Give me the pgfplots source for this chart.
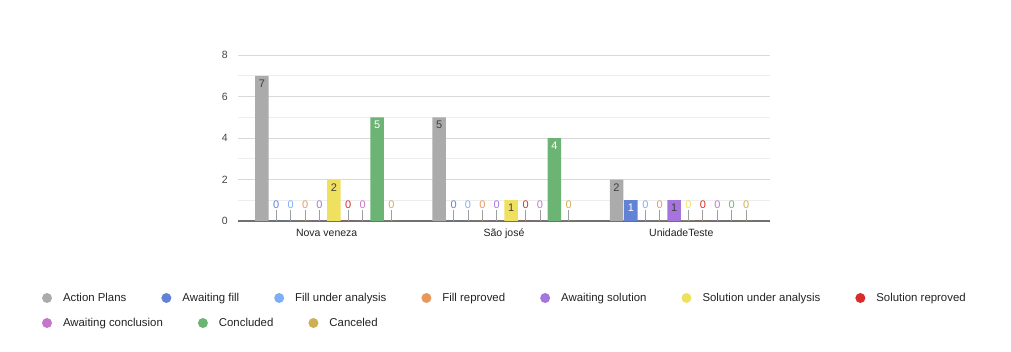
\documentclass[border=0pt]{standalone}
\usepackage{pgfplots}
\pgfplotsset{compat=1.18}
\usepackage{fontspec}
\setmainfont{Liberation Sans}
\definecolor{cAP}{HTML}{ABABAB}
\definecolor{cAF}{HTML}{6282D6}
\definecolor{cFU}{HTML}{7DAEF6}
\definecolor{cFR}{HTML}{E9985C}
\definecolor{cAS}{HTML}{A574DC}
\definecolor{cSU}{HTML}{F0E060}
\definecolor{cSR}{HTML}{D82B2B}
\definecolor{cAC}{HTML}{C476CA}
\definecolor{cCO}{HTML}{6CB474}
\definecolor{cCA}{HTML}{CDB056}
\definecolor{stemc}{HTML}{9E9E9E}
\definecolor{labdark}{HTML}{404040}
\definecolor{gridmaj}{HTML}{D9D9D9}
\definecolor{gridmin}{HTML}{EDEDED}
\definecolor{basec}{HTML}{707070}
\definecolor{tickc}{HTML}{444444}
\definecolor{legc}{HTML}{222222}
\newcommand\zerolab[1]{\vbox{\offinterlineskip\hbox to 10bp{\hss\textcolor{#1}{0}\hss}\kern1.5bp\hbox to 10bp{\hss\textcolor{stemc}{\vrule width 1bp height 11bp depth 0pt}\hss}}}
\newcommand\vallab[1]{\raisebox{-12.3bp}[0pt][0pt]{\textcolor{#1}{\pgfmathprintnumber{\pgfplotspointmeta}}}}
\newcommand\lab[2]{\pgfmathfloatifflags{\pgfplotspointmeta}{0}{\zerolab{#1}}{\vallab{#2}}}
\pgfplotsset{
  circleleg/.style={legend image code/.code={\fill[##1,draw=none] (5bp,0bp) circle[radius=5bp];}},
  mylegend/.style={legend style={draw=none, fill=none, inner sep=0pt, outer sep=0pt,
      font=\fontsize{11.4bp}{13bp}\selectfont, text=legc,
      nodes={inner sep=0pt},
      /tikz/every odd column/.style={column sep=11bp},
      /tikz/every even column/.style={column sep=35bp}},
    legend cell align=left},
}
\begin{document}
\begin{tikzpicture}
\useasboundingbox (0,0) rectangle (1011bp,352bp);
\begin{axis}[
  at={(238bp,131bp)}, anchor=south west,
  scale only axis, width=532bp, height=166bp,
  ybar, bar width=13.5bp,
  xmin=-0.5, xmax=2.5, ymin=0, ymax=8,
  xtick={0,1,2}, xticklabels={Nova veneza, São josé, UnidadeTeste},
  ytick={0,2,4,6,8}, minor ytick={1,3,5,7},
  ymajorgrids, yminorgrids,
  major grid style={draw=gridmaj, line width=0.9bp},
  minor grid style={draw=gridmin, line width=0.9bp},
  axis x line*=bottom, axis y line*=left,
  x axis line style={draw=basec, line width=1.2bp},
  y axis line style={draw=none},
  major tick length=0pt, minor tick length=0pt,
  /pgf/number format/assume math mode=true,
  yticklabel style={font=\fontsize{10.5bp}{12bp}\selectfont, text=tickc, inner sep=0pt, xshift=-10bp},
  xticklabel style={font=\fontsize{10.5bp}{12bp}\selectfont, text=legc, inner sep=0pt, anchor=north, text height=8bp, text depth=2bp, yshift=-7.7bp},
  clip=false,
  every node near coord/.append style={anchor=south, inner sep=0pt, font=\fontsize{11bp}{13bp}\selectfont},
  mylegend, legend columns=7,
  legend style={at={(axis description cs:-0.3684,-0.4639)}, anchor=west},
]
\addplot[fill=cAP, draw=none, bar shift=-64.8bp, circleleg, nodes near coords={\lab{cAP}{labdark}}] coordinates {(0,7) (1,5) (2,2)};
\addlegendentry{Action Plans}
\addplot[fill=cAF, draw=none, bar shift=-50.4bp, circleleg, nodes near coords={\lab{cAF}{white}}] coordinates {(0,0) (1,0) (2,1)};
\addlegendentry{Awaiting fill}
\addplot[fill=cFU, draw=none, bar shift=-36bp, circleleg, nodes near coords={\lab{cFU}{labdark}}] coordinates {(0,0) (1,0) (2,0)};
\addlegendentry{Fill under analysis}
\addplot[fill=cFR, draw=none, bar shift=-21.6bp, circleleg, nodes near coords={\lab{cFR}{labdark}}] coordinates {(0,0) (1,0) (2,0)};
\addlegendentry{Fill reproved}
\addplot[fill=cAS, draw=none, bar shift=-7.2bp, circleleg, nodes near coords={\lab{cAS}{labdark}}] coordinates {(0,0) (1,0) (2,1)};
\addlegendentry{Awaiting solution}
\addplot[fill=cSU, draw=none, bar shift=7.2bp, circleleg, nodes near coords={\lab{cSU}{labdark}}] coordinates {(0,2) (1,1) (2,0)};
\addlegendentry{Solution under analysis}
\addplot[fill=cSR, draw=none, bar shift=21.6bp, circleleg, nodes near coords={\lab{cSR}{labdark}}] coordinates {(0,0) (1,0) (2,0)};
\addlegendentry{Solution reproved}
\addplot[fill=cAC, draw=none, bar shift=36bp, circleleg, nodes near coords={\lab{cAC}{labdark}}] coordinates {(0,0) (1,0) (2,0)};
\addplot[fill=cCO, draw=none, bar shift=50.4bp, circleleg, nodes near coords={\lab{cCO}{white}}] coordinates {(0,5) (1,4) (2,0)};
\addplot[fill=cCA, draw=none, bar shift=64.8bp, circleleg, nodes near coords={\lab{cCA}{labdark}}] coordinates {(0,0) (1,0) (2,0)};
\end{axis}
\begin{axis}[
  at={(238bp,131bp)}, anchor=south west,
  scale only axis, width=532bp, height=166bp,
  hide axis, xmin=0, xmax=1, ymin=0, ymax=1,
  mylegend, legend columns=3,
  legend style={at={(axis description cs:-0.3684,-0.6145)}, anchor=west},
]
\addlegendimage{circleleg, fill=cAC}
\addlegendentry{Awaiting conclusion}
\addlegendimage{circleleg, fill=cCO}
\addlegendentry{Concluded}
\addlegendimage{circleleg, fill=cCA}
\addlegendentry{Canceled}
\end{axis}
\end{tikzpicture}
\end{document}
